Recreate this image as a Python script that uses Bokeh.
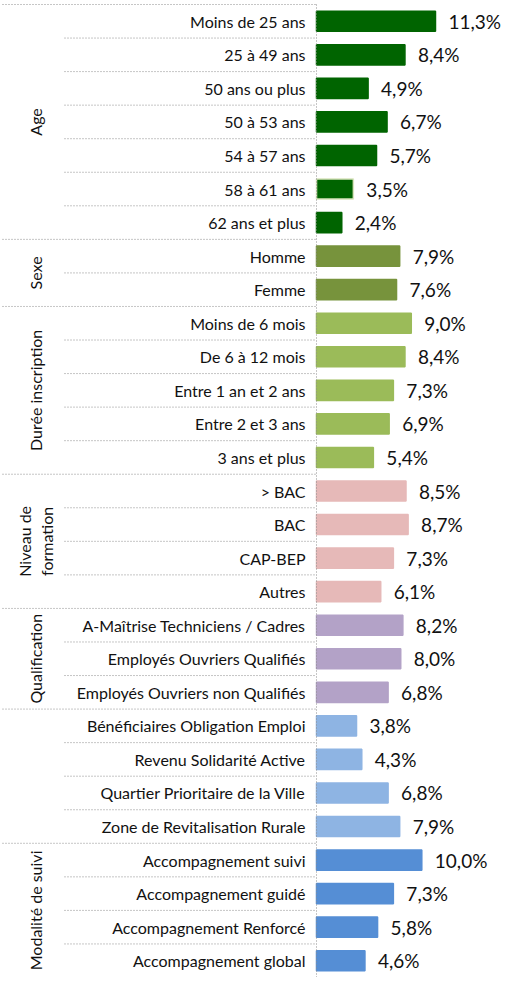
import math
from bokeh.plotting import figure
from bokeh.models import Range1d, ColumnDataSource
from bokeh.core.properties import value
from bokeh.embed import file_html
from bokeh.resources import INLINE

# ---------------- data ----------------
groups = ["Age", "Sexe", "Durée inscription", "Niveau de\nformation", "Qualification", "", "Modalité de suivi"]
group_sizes = [7, 2, 5, 4, 3, 4, 4]
group_colors = ["#006400", "#77933C", "#9BBB59", "#E6B9B8", "#B3A2C7", "#8EB4E3", "#558ED5"]

categories = [
    "Moins de 25 ans", "25 à 49 ans", "50 ans ou plus", "50 à 53 ans", "54 à 57 ans", "58 à 61 ans", "62 ans et plus",
    "Homme", "Femme",
    "Moins de 6 mois", "De 6 à 12 mois", "Entre 1 an et 2 ans", "Entre 2 et 3 ans", "3 ans et plus",
    "> BAC", "BAC", "CAP-BEP", "Autres",
    "A-Maîtrise Techniciens / Cadres", "Employés Ouvriers Qualifiés", "Employés Ouvriers non Qualifiés",
    "Bénéficiaires Obligation Emploi", "Revenu Solidarité Active", "Quartier Prioritaire de la Ville", "Zone de Revitalisation Rurale",
    "Accompagnement suivi", "Accompagnement guidé", "Accompagnement Renforcé", "Accompagnement global",
]
values = [
    11.3, 8.4, 4.9, 6.7, 5.7, 3.5, 2.4,
    7.9, 7.6,
    9.0, 8.4, 7.3, 6.9, 5.4,
    8.5, 8.7, 7.3, 6.1,
    8.2, 8.0, 6.8,
    3.8, 4.3, 6.8, 7.9,
    10.0, 7.3, 5.8, 4.6,
]

# ---------------- layout (pixels) ----------------
W, H = 501, 977
axis_px = 316          # x of bar baseline in figure pixels
px_per_unit = 10.53
top_px = 4
n = len(categories)
row_px = (H - top_px) / n

x0 = -axis_px / px_per_unit
x1 = (W - axis_px) / px_per_unit
y_top = -top_px / row_px

p = figure(width=W, height=H, output_backend="svg", toolbar_location=None,
           x_range=Range1d(x0, x1), y_range=Range1d(n, y_top),
           min_border=0, outline_line_color=None)
p.axis.visible = False
p.grid.visible = False
p.background_fill_color = "white"
p.border_fill_color = "white"

# colours per bar
bar_colors = []
for gi, s in enumerate(group_sizes):
    bar_colors += [group_colors[gi]] * s
outline = list(bar_colors)
outline[categories.index("58 à 61 ans")] = "#D8E4BC"

ys = [i + 0.5 for i in range(n)]
src = ColumnDataSource(dict(y=ys, v=values, cat=categories, c=bar_colors, oc=outline,
                            lab=[f"{v:.1f}".replace(".", ",") + "%" for v in values]))

FONT = value("Lato")

p.hbar(y="y", left=0, right="v", height=0.6, fill_color="c", line_color="oc", line_width=1.5, source=src)

p.text(x="v", y="y", text="lab", source=src, x_offset=13, text_align="left", text_baseline="middle",
       text_font=FONT, text_font_size="19px", text_color="#111111")
p.text(x=0, y="y", text="cat", source=src, x_offset=-11, text_align="right", text_baseline="middle",
       text_font=FONT, text_font_size="16px", text_color="#111111")

# separators
dot = dict(line_color="#8c8c8c", line_width=1, line_dash="1 2")
xl_full = -(axis_px - 2) / px_per_unit
xl_inner = -(axis_px - 64) / px_per_unit
starts = []
acc = 0
for s in group_sizes:
    starts.append(acc)
    acc += s
for b in range(n):
    full = b in starts
    p.segment(x0=xl_full if full else xl_inner, y0=b, x1=0.0, y1=b, **dot)
p.segment(x0=xl_full, y0=n, x1=0.0, y1=n, **dot)
p.segment(x0=0, y0=0, x1=0, y1=n, **dot)

# group labels
gx = -(axis_px - 35) / px_per_unit
for gi, g in enumerate(groups):
    if not g:
        continue
    yc = starts[gi] + group_sizes[gi] / 2
    p.text(x=[gx], y=[yc], text=[g], angle=math.pi / 2, text_align="center", text_baseline="middle",
           text_font=FONT, text_font_size="16px", text_color="#111111", text_line_height=1.15)

open("out.html", "w").write(file_html(p, INLINE))
